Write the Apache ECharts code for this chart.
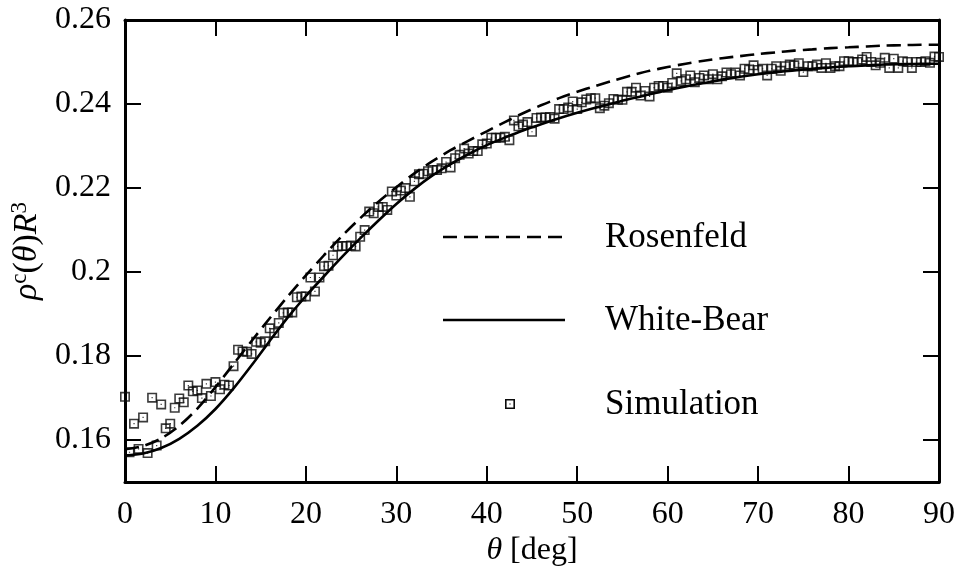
<!DOCTYPE html>
<html>
<head>
<meta charset="utf-8">
<script src="https://cdn.jsdelivr.net/npm/echarts@6/dist/echarts.min.js"></script>
<style>
  html, body { margin: 0; padding: 0; background: #fff; }
  #chart { width: 960px; height: 572px; }
</style>
</head>
<body>
<div id="chart"></div>
<script>
// Angular contact density rho^c(theta) R^3: two DFT curves and simulation data

// theory curves, sampled every 2 degrees
const thetaCurve = [0, 2, 4, 6, 8, 10, 12, 14, 16, 18, 20, 22, 24, 26, 28, 30, 32, 34, 36, 38,
  40, 42, 44, 46, 48, 50, 52, 54, 56, 58, 60, 62, 64, 66, 68, 70, 72, 74, 76, 78,
  80, 82, 84, 86, 88, 90];

const rosenfeld = [0.1578, 0.1586, 0.1604, 0.1634, 0.1675, 0.1726, 0.1781, 0.1836, 0.1890, 0.1942,
  0.1992, 0.2040, 0.2086, 0.2128, 0.2167, 0.2202, 0.2235, 0.2264, 0.2290, 0.2313,
  0.2335, 0.2357, 0.2378, 0.2397, 0.2414, 0.2429, 0.2443, 0.2456, 0.2468, 0.2479,
  0.2488, 0.2496, 0.2503, 0.2509, 0.2514, 0.2519, 0.2523, 0.2527, 0.2530, 0.2533,
  0.2535, 0.2537, 0.2539, 0.2540, 0.2541, 0.2541];

const whiteBear = [0.1563, 0.1568, 0.1581, 0.1603, 0.1634, 0.1674, 0.1723, 0.1778, 0.1836, 0.1892,
  0.1943, 0.1990, 0.2036, 0.2080, 0.2122, 0.2162, 0.2198, 0.2230, 0.2257, 0.2281,
  0.2302, 0.2320, 0.2337, 0.2352, 0.2366, 0.2379, 0.2391, 0.2402, 0.2413, 0.2423,
  0.2433, 0.2442, 0.2450, 0.2458, 0.2465, 0.2471, 0.2476, 0.2480, 0.2484, 0.2487,
  0.2490, 0.2492, 0.2494, 0.2495, 0.2496, 0.2496];

// simulation histogram, 0.5 degree bins
const thetaSim = [0, 0.5, 1, 1.5, 2, 2.5, 3, 3.5, 4, 4.5, 5, 5.5, 6, 6.5, 7, 7.5, 8, 8.5, 9, 9.5,
  10, 10.5, 11, 11.5, 12, 12.5, 13, 13.5, 14, 14.5, 15, 15.5, 16, 16.5, 17, 17.5, 18, 18.5, 19, 19.5,
  20, 20.5, 21, 21.5, 22, 22.5, 23, 23.5, 24, 24.5, 25, 25.5, 26, 26.5, 27, 27.5, 28, 28.5, 29, 29.5,
  30, 30.5, 31, 31.5, 32, 32.5, 33, 33.5, 34, 34.5, 35, 35.5, 36, 36.5, 37, 37.5, 38, 38.5, 39, 39.5,
  40, 40.5, 41, 41.5, 42, 42.5, 43, 43.5, 44, 44.5, 45, 45.5, 46, 46.5, 47, 47.5, 48, 48.5, 49, 49.5,
  50, 50.5, 51, 51.5, 52, 52.5, 53, 53.5, 54, 54.5, 55, 55.5, 56, 56.5, 57, 57.5, 58, 58.5, 59, 59.5,
  60, 60.5, 61, 61.5, 62, 62.5, 63, 63.5, 64, 64.5, 65, 65.5, 66, 66.5, 67, 67.5, 68, 68.5, 69, 69.5,
  70, 70.5, 71, 71.5, 72, 72.5, 73, 73.5, 74, 74.5, 75, 75.5, 76, 76.5, 77, 77.5, 78, 78.5, 79, 79.5,
  80, 80.5, 81, 81.5, 82, 82.5, 83, 83.5, 84, 84.5, 85, 85.5, 86, 86.5, 87, 87.5, 88, 88.5, 89, 89.5,
  90];

const rhoSim = [0.1703, 0.1571, 0.1639, 0.1579, 0.1654, 0.1569, 0.1701, 0.1587, 0.1685, 0.1628,
  0.1639, 0.1677, 0.1699, 0.1690, 0.1730, 0.1716, 0.1718, 0.1700, 0.1734, 0.1705,
  0.1738, 0.1721, 0.1732, 0.1730, 0.1776, 0.1815, 0.1811, 0.1810, 0.1805, 0.1834,
  0.1832, 0.1835, 0.1866, 0.1855, 0.1879, 0.1903, 0.1904, 0.1904, 0.1940, 0.1942,
  0.1942, 0.1987, 0.1954, 0.1987, 0.2014, 0.2015, 0.2040, 0.2061, 0.2062, 0.2062,
  0.2063, 0.2061, 0.2084, 0.2100, 0.2144, 0.2140, 0.2155, 0.2155, 0.2148, 0.2192,
  0.2182, 0.2194, 0.2200, 0.2179, 0.2216, 0.2233, 0.2234, 0.2240, 0.2243, 0.2243,
  0.2247, 0.2262, 0.2249, 0.2271, 0.2279, 0.2294, 0.2282, 0.2288, 0.2288, 0.2304,
  0.2306, 0.2320, 0.2320, 0.2320, 0.2322, 0.2314, 0.2361, 0.2347, 0.2351, 0.2357,
  0.2334, 0.2367, 0.2368, 0.2368, 0.2369, 0.2365, 0.2388, 0.2388, 0.2392, 0.2406,
  0.2388, 0.2404, 0.2411, 0.2414, 0.2414, 0.2390, 0.2396, 0.2402, 0.2412, 0.2410,
  0.2410, 0.2429, 0.2429, 0.2439, 0.2420, 0.2431, 0.2418, 0.2439, 0.2443, 0.2443,
  0.2439, 0.2450, 0.2473, 0.2455, 0.2459, 0.2468, 0.2452, 0.2462, 0.2468, 0.2459,
  0.2471, 0.2459, 0.2466, 0.2475, 0.2471, 0.2475, 0.2468, 0.2484, 0.2482, 0.2492,
  0.2481, 0.2484, 0.2468, 0.2484, 0.2490, 0.2479, 0.2490, 0.2494, 0.2492, 0.2497,
  0.2476, 0.2490, 0.2490, 0.2494, 0.2486, 0.2497, 0.2486, 0.2490, 0.2490, 0.2502,
  0.2502, 0.2500, 0.2500, 0.2506, 0.2512, 0.2500, 0.2492, 0.2498, 0.2510, 0.2486,
  0.2508, 0.2486, 0.2502, 0.2500, 0.2486, 0.2500, 0.2500, 0.2502, 0.2498, 0.2513,
  0.2512];

const seriesNames = ['Rosenfeld', 'White-Bear', 'Simulation'];

const FONT = '"Liberation Serif", "DejaVu Serif", serif';
const INK = '#000';
const BOX = '#0a0a0a';

const zip = (xs, ys) => xs.map((x, i) => [x, ys[i]]);

// hollow square with a centre dot (filled by winding)
const boxPath = 'M0 0H10V10H0ZM1.6 1.6V8.4H8.4V1.6ZM4.4 4.4H5.6V5.6H4.4Z';
const boxSymbol = 'path://' + boxPath;

const frameLine = { show: true, onZero: false, lineStyle: { color: INK, width: 3 } };
const innerTick = { show: true, inside: true, length: 16, lineStyle: { color: INK, width: 2 } };

const chart = echarts.init(document.getElementById('chart'), null, { renderer: 'canvas' });

chart.setOption({
  animation: false,
  backgroundColor: '#fff',
  grid: { left: 125, right: 21, top: 20, bottom: 84 },
  xAxis: [
    {
      type: 'value', min: 0, max: 90, interval: 10, position: 'bottom',
      axisLine: frameLine, axisTick: innerTick, splitLine: { show: false },
      axisLabel: { margin: 16, color: INK, fontFamily: FONT, fontSize: 32 },
      name: '{i|θ} [deg]', nameLocation: 'middle', nameGap: 45,
      nameTextStyle: {
        color: INK, fontFamily: FONT, fontSize: 32,
        rich: { i: { fontStyle: 'italic', fontFamily: FONT, fontSize: 32, color: INK } }
      }
    },
    {
      type: 'value', min: 0, max: 90, interval: 10, position: 'top',
      axisLine: frameLine, axisTick: innerTick, splitLine: { show: false },
      axisLabel: { show: false }
    }
  ],
  yAxis: [
    {
      type: 'value', min: 0.15, max: 0.26, splitNumber: 5, position: 'left',
      axisLine: frameLine, axisTick: innerTick, splitLine: { show: false },
      axisLabel: { showMinLabel: false, margin: 14, color: INK, fontFamily: FONT, fontSize: 32 },
      name: '{i|ρ}{s|c}{n|(}{i|θ}{n|)}{i|R}{s|3}', nameLocation: 'middle', nameRotate: 90, nameGap: 62,
      nameTextStyle: {
        color: INK, fontFamily: FONT, fontSize: 34,
        rich: {
          i: { fontStyle: 'italic', fontFamily: FONT, fontSize: 34, lineHeight: 38, color: INK },
          n: { fontFamily: FONT, fontSize: 34, lineHeight: 38, color: INK },
          s: { fontFamily: FONT, fontSize: 23, lineHeight: 23, verticalAlign: 'top', color: INK }
        }
      }
    },
    {
      type: 'value', min: 0.15, max: 0.26, splitNumber: 5, position: 'right',
      axisLine: frameLine, axisTick: innerTick, splitLine: { show: false },
      axisLabel: { show: false }
    }
  ],
  series: [
    {
      name: seriesNames[2], type: 'scatter', data: zip(thetaSim, rhoSim),
      symbol: boxSymbol, symbolSize: 10, clip: false, silent: true,
      itemStyle: { color: BOX }, z: 2
    },
    {
      name: seriesNames[0], type: 'line', data: zip(thetaCurve, rosenfeld),
      symbol: 'none', smooth: 0.3, silent: true,
      lineStyle: { color: INK, width: 2.6, type: [14, 7] }, z: 3
    },
    {
      name: seriesNames[1], type: 'line', data: zip(thetaCurve, whiteBear),
      symbol: 'none', smooth: 0.3, silent: true,
      lineStyle: { color: INK, width: 2.6, type: 'solid' }, z: 3
    }
  ],
  // key placed inside the plot, right of centre
  graphic: [
    { type: 'line', shape: { x1: 443, y1: 237, x2: 565, y2: 237 },
      style: { stroke: INK, lineWidth: 2.6, lineDash: [14, 7] } },
    { type: 'text', x: 605, y: 238,
      style: { text: seriesNames[0], font: '35px ' + FONT, fill: INK, verticalAlign: 'middle' } },
    { type: 'line', shape: { x1: 443, y1: 320, x2: 565, y2: 320 },
      style: { stroke: INK, lineWidth: 2.6 } },
    { type: 'text', x: 605, y: 321,
      style: { text: seriesNames[1], font: '35px ' + FONT, fill: INK, verticalAlign: 'middle' } },
    { type: 'rect', shape: { x: 505.8, y: 399.8, width: 8.4, height: 8.4 },
      style: { fill: 'none', stroke: BOX, lineWidth: 1.6 } },
    { type: 'rect', shape: { x: 509.4, y: 403.4, width: 1.2, height: 1.2 },
      style: { fill: BOX } },
    { type: 'text', x: 605, y: 405,
      style: { text: seriesNames[2], font: '35px ' + FONT, fill: INK, verticalAlign: 'middle' } }
  ]
});
</script>
</body>
</html>
